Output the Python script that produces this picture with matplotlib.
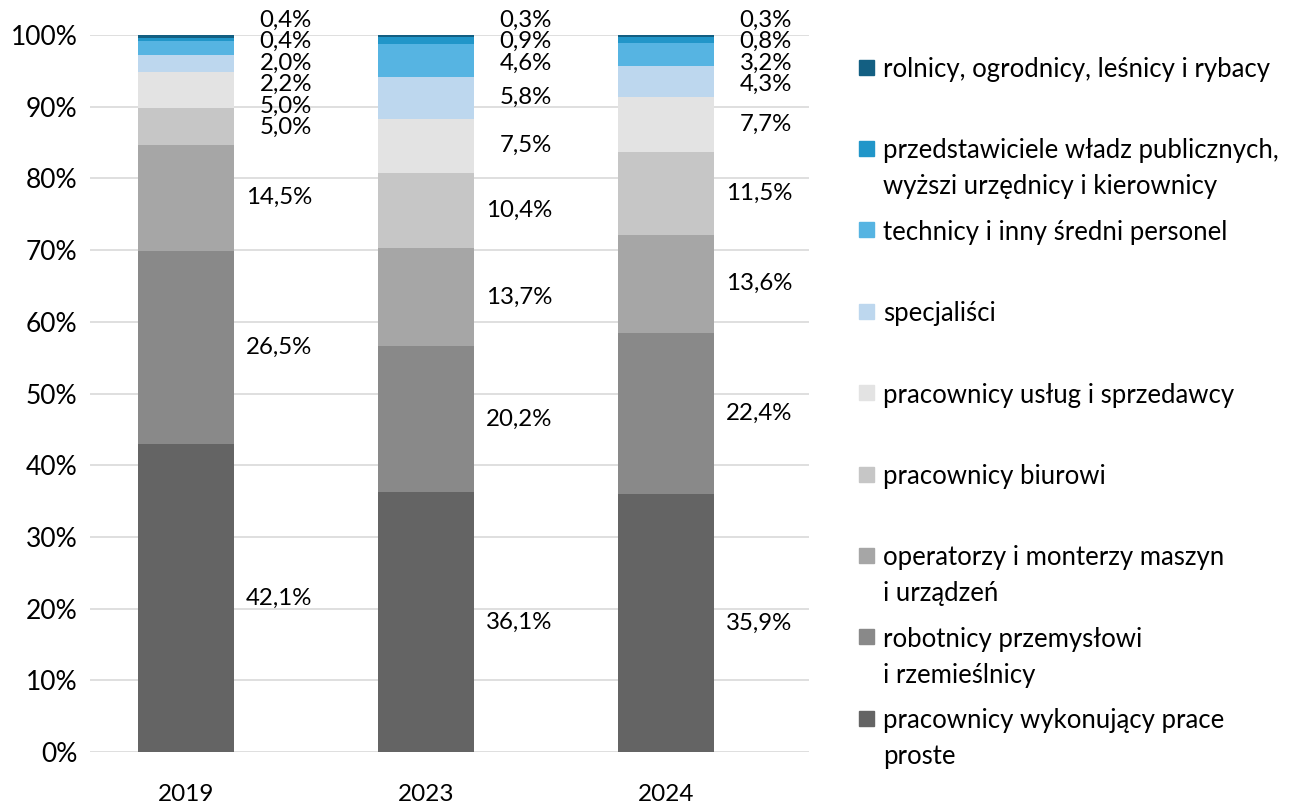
import numpy as np
import matplotlib
matplotlib.use("Agg")
import matplotlib.pyplot as plt
from matplotlib.patches import Rectangle
from matplotlib.ticker import FuncFormatter

plt.rcParams['font.family'] = ['Lato', 'DejaVu Sans']

years = ["2019", "2023", "2024"]

# series from bottom to top of the stack
series_names = [
    "pracownicy wykonujący prace\nproste",
    "robotnicy przemysłowi\ni rzemieślnicy",
    "operatorzy i monterzy maszyn\ni urządzeń",
    "pracownicy biurowi",
    "pracownicy usług i sprzedawcy",
    "specjaliści",
    "technicy i inny średni personel",
    "przedstawiciele władz publicznych,\nwyższi urzędnicy i kierownicy",
    "rolnicy, ogrodnicy, leśnicy i rybacy",
]
proste = [42.1, 36.1, 35.9]
robotnicy = [26.5, 20.2, 22.4]
operatorzy = [14.5, 13.7, 13.6]
biurowi = [5.0, 10.4, 11.5]
uslugi = [5.0, 7.5, 7.7]
specjalisci = [2.2, 5.8, 4.3]
technicy = [2.0, 4.6, 3.2]
przedstawiciele = [0.4, 0.9, 0.8]
rolnicy = [0.4, 0.3, 0.3]

colors = ["#646464", "#898989", "#a6a6a6", "#c6c6c6", "#e3e3e3",
          "#bdd7ee", "#56b4e2", "#2196c9", "#135f82"]

values = np.array([proste, robotnicy, operatorzy, biurowi, uslugi,
                   specjalisci, technicy, przedstawiciele, rolnicy])
shares = values / values.sum(axis=0) * 100

W, H = 1298, 807
fig = plt.figure(figsize=(W / 100, H / 100), dpi=100)
ax = fig.add_axes([90 / W, 1 - 752 / H, (809 - 90) / W, (752 - 35) / H])

x = np.arange(len(years))
bottom = np.zeros(len(years))
for i in range(len(series_names)):
    ax.bar(x, shares[i], 0.4, bottom=bottom, color=colors[i], zorder=2)
    bottom += shares[i]

# data labels right of the bars, crowded ones stacked downward from the top
gap = 3.0
label_top = 102.1
for j in range(len(years)):
    cum = np.cumsum(shares[:, j])
    centers = cum - shares[:, j] / 2
    ys = np.zeros(len(centers))
    prev = None
    for i in range(len(centers) - 1, -1, -1):
        ys[i] = label_top if prev is None else min(centers[i], prev - gap)
        prev = ys[i]
    for i in range(len(centers)):
        txt = f"{values[i, j]:.1f}".replace(".", ",") + "%"
        ax.text(x[j] + 0.525, ys[i], txt, ha="right", va="center",
                fontsize=17.3, color="#000000", clip_on=False)

ax.set_xlim(-0.4, 2.596)
ax.set_ylim(0, 100)
ax.set_yticks(np.arange(0, 101, 10))
ax.yaxis.set_major_formatter(FuncFormatter(lambda v, p: f"{v:.0f}%"))
ax.set_xticks(x)
ax.set_xticklabels(years)
ax.tick_params(axis="y", length=0, pad=9, labelsize=19)
ax.tick_params(axis="x", length=0, pad=23, labelsize=17.5)
ax.grid(axis="y", color="#d9d9d9", linewidth=1.2, zorder=0)
for s in ax.spines.values():
    s.set_visible(False)

# legend, top to bottom
step = 81.4
line_h = 36
for k, i in enumerate(range(len(series_names) - 1, -1, -1)):
    yc = 67 + k * step
    fig.patches.append(Rectangle((859 / W, 1 - (yc + 7.5) / H), 15 / W, 15 / H,
                                 transform=fig.transFigure, color=colors[i]))
    for n, line in enumerate(series_names[i].split("\n")):
        fig.text(883 / W, 1 - (yc + n * line_h) / H, line, ha="left",
                 va="center_baseline", fontsize=18.5, color="#000000")

fig.savefig("out.png", dpi=100)
